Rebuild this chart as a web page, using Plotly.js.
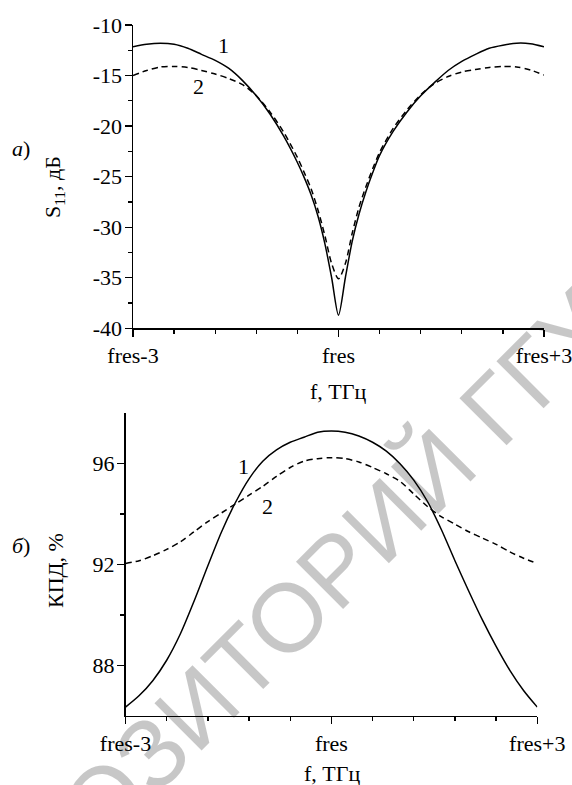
<!DOCTYPE html>
<html>
<head>
<meta charset="utf-8">
<script src="https://cdn.plot.ly/plotly-3.0.1.min.js"></script>
<style>html,body{margin:0;padding:0;background:#fff;}#chart{width:572px;height:785px;}</style>
</head>
<body>
<div id="chart"></div>
<script>
// Panel a) S11, dB
const xTop = [-3,-2.8,-2.6,-2.4,-2.2,-2.0,-1.8,-1.6,-1.4,-1.2,-1.0,-0.8,-0.6,-0.5,-0.4,-0.3,-0.2,-0.1,0,0.1,0.2,0.3,0.4,0.5,0.6,0.8,1.0,1.2,1.4,1.6,1.8,2.0,2.2,2.4,2.6,2.8,3.0];
const s11Curve1 = [-12.15,-11.9,-11.8,-11.9,-12.3,-12.9,-13.5,-14.3,-15.5,-17.0,-18.8,-21.0,-23.6,-25.1,-26.8,-28.9,-31.6,-35.0,-38.7,-35.0,-31.4,-28.7,-26.5,-24.6,-22.9,-20.5,-18.6,-17.0,-15.7,-14.5,-13.6,-12.9,-12.3,-12.0,-11.8,-11.85,-12.15];
const s11Curve2 = [-15.0,-14.5,-14.15,-14.1,-14.2,-14.5,-14.85,-15.3,-15.9,-17.0,-18.6,-20.6,-23.1,-24.6,-26.2,-28.3,-30.8,-33.6,-35.1,-33.6,-30.6,-28.0,-26.0,-24.2,-22.6,-20.2,-18.4,-16.9,-15.8,-15.1,-14.65,-14.4,-14.2,-14.1,-14.15,-14.45,-14.95];

// Panel б) efficiency, %
const xBottom = [-3,-2.8,-2.6,-2.4,-2.2,-2.0,-1.8,-1.6,-1.4,-1.2,-1.0,-0.8,-0.6,-0.4,-0.2,0,0.2,0.4,0.6,0.8,1.0,1.2,1.4,1.6,1.8,2.0,2.2,2.4,2.6,2.8,3.0];
const effCurve1 = [86.34,86.8,87.4,88.2,89.25,90.55,91.95,93.3,94.45,95.4,96.1,96.55,96.85,97.05,97.25,97.3,97.25,97.1,96.85,96.5,96.0,95.35,94.5,93.4,92.15,90.95,89.8,88.75,87.8,87.0,86.34];
const effCurve2 = [92.04,92.15,92.35,92.6,92.9,93.3,93.7,94.05,94.4,94.75,95.1,95.5,95.85,96.1,96.2,96.24,96.2,96.07,95.85,95.6,95.3,94.8,94.3,93.9,93.6,93.3,93.05,92.8,92.5,92.25,92.04];

// Tick labels
const xTickVals = [-3, 0, 3];
const xTickText = ['fres-3', 'fres', 'fres+3'];
const yTopTickVals = [-40,-35,-30,-25,-20,-15,-10];
const yTopTickText = ['-40','-35','-30','-25','-20','-15','-10'];
const yBottomTickVals = [88, 92, 96];
const yBottomTickText = ['88', '92', '96'];
const yBottomMinorVals = [90, 94];

const W = 572, H = 785;
const px = v => v / W;
const py = v => 1 - v / H;

const serif = 'Liberation Serif';
const solid = {color: '#000', width: 1.5, shape: 'spline', smoothing: 0.8};
const dashed = {color: '#000', width: 1.5, shape: 'spline', smoothing: 0.8, dash: '6px,4px'};

const traces = [
  {x: xTop, y: s11Curve1, xaxis: 'x', yaxis: 'y', mode: 'lines', line: solid},
  {x: xTop, y: s11Curve2, xaxis: 'x', yaxis: 'y', mode: 'lines', line: dashed},
  {x: xBottom, y: effCurve1, xaxis: 'x2', yaxis: 'y2', mode: 'lines', line: solid},
  {x: xBottom, y: effCurve2, xaxis: 'x2', yaxis: 'y2', mode: 'lines', line: dashed}
];

const axisCommon = {
  showline: true, linecolor: '#000', linewidth: 1.5, mirror: false,
  showgrid: false, zeroline: false,
  ticks: 'outside', ticklen: 7, tickwidth: 1.3, tickcolor: '#000',
  ticklabeloverflow: 'allow',
  tickfont: {family: serif, size: 22, color: '#000'}
};

const xMinor = {tick0: -3, dtick: 0.6, ticks: 'outside', ticklen: 4, tickwidth: 1.3, tickcolor: '#000'};

const layout = {
  width: W, height: H,
  margin: {l: 0, r: 0, t: 0, b: 0},
  paper_bgcolor: '#fff', plot_bgcolor: 'rgba(0,0,0,0)',
  showlegend: false,
  font: {family: serif, color: '#000'},
  xaxis: Object.assign({}, axisCommon, {
    domain: [px(133), px(544)], range: [-3, 3], anchor: 'y',
    tickmode: 'array', tickvals: xTickVals, ticktext: xTickText, minor: xMinor
  }),
  yaxis: Object.assign({}, axisCommon, {
    domain: [py(328.3), py(25)], range: [-40, -10], anchor: 'x',
    tickmode: 'array', tickvals: yTopTickVals, ticktext: yTopTickText, ticklabelstandoff: -2,
    minor: {tick0: -40, dtick: 2.5, ticks: 'outside', ticklen: 4, tickwidth: 1.3, tickcolor: '#000'}
  }),
  xaxis2: Object.assign({}, axisCommon, {
    domain: [px(125.5), px(537.3)], range: [-3, 3], anchor: 'y2',
    tickmode: 'array', tickvals: xTickVals, ticktext: xTickText, minor: xMinor
  }),
  yaxis2: Object.assign({}, axisCommon, {
    domain: [py(715.7), py(413.3)], range: [86, 98], anchor: 'x2',
    tickmode: 'array', tickvals: yBottomTickVals, ticktext: yBottomTickText, ticklabelstandoff: -2,
    minor: {tickmode: 'array', tickvals: yBottomMinorVals, ticks: 'outside', ticklen: 4, tickwidth: 1.3, tickcolor: '#000'}
  }),
  annotations: [
    {text: 'РЕПОЗИТОРИЙ ГГУ', xref: 'paper', yref: 'paper', x: px(266), y: py(638),
     xanchor: 'center', yanchor: 'middle', showarrow: false, textangle: -45,
     font: {family: 'Liberation Sans', size: 97, color: 'rgba(0,0,0,0.22)'}},
    {text: 'f, ТГц', xref: 'paper', yref: 'paper', x: px(338), y: py(391), xanchor: 'center', yanchor: 'middle',
     showarrow: false, font: {family: serif, size: 22, color: '#000'}},
    {text: 'f, ТГц', xref: 'paper', yref: 'paper', x: px(331.5), y: py(773), xanchor: 'center', yanchor: 'middle',
     showarrow: false, font: {family: serif, size: 22, color: '#000'}},
    {text: 'S<sub>11</sub>, дБ', xref: 'paper', yref: 'paper', x: px(54), y: py(187), xanchor: 'center', yanchor: 'middle',
     showarrow: false, textangle: -90, font: {family: serif, size: 22, color: '#000'}},
    {text: 'КПД, %', xref: 'paper', yref: 'paper', x: px(55), y: py(571), xanchor: 'center', yanchor: 'middle',
     showarrow: false, textangle: -90, font: {family: serif, size: 22, color: '#000'}},
    {text: '<i>а</i>)', xref: 'paper', yref: 'paper', x: px(21), y: py(149), xanchor: 'center', yanchor: 'middle',
     showarrow: false, font: {family: serif, size: 22, color: '#000'}},
    {text: '<i>б</i>)', xref: 'paper', yref: 'paper', x: px(21), y: py(545), xanchor: 'center', yanchor: 'middle',
     showarrow: false, font: {family: serif, size: 22, color: '#000'}},
    {text: '1', xref: 'paper', yref: 'paper', x: px(223), y: py(46), xanchor: 'center', yanchor: 'middle',
     showarrow: false, font: {family: serif, size: 22, color: '#000'}},
    {text: '2', xref: 'paper', yref: 'paper', x: px(198), y: py(87), xanchor: 'center', yanchor: 'middle',
     showarrow: false, font: {family: serif, size: 22, color: '#000'}},
    {text: '1', xref: 'paper', yref: 'paper', x: px(243), y: py(466), xanchor: 'center', yanchor: 'middle',
     showarrow: false, font: {family: serif, size: 22, color: '#000'}},
    {text: '2', xref: 'paper', yref: 'paper', x: px(267), y: py(506), xanchor: 'center', yanchor: 'middle',
     showarrow: false, font: {family: serif, size: 22, color: '#000'}}
  ]
};

Plotly.newPlot('chart', traces, layout, {staticPlot: true, displayModeBar: false});
</script>
</body>
</html>
